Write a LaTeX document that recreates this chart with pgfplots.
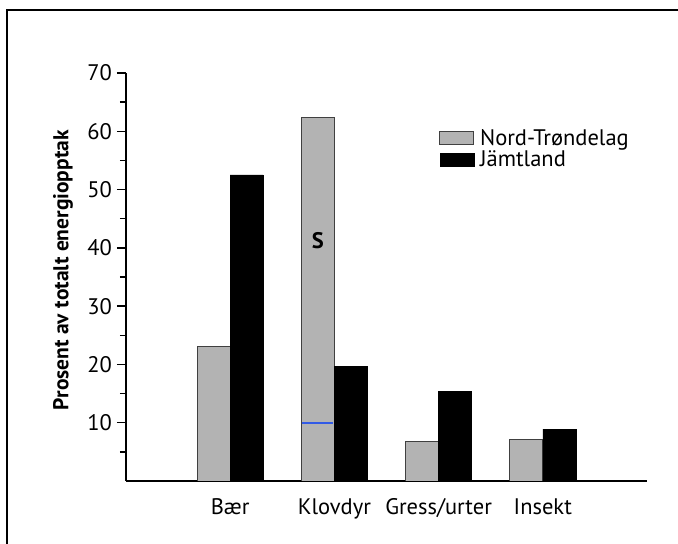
\documentclass[border=0pt]{standalone}
\usepackage{pgfplots}
\pgfplotsset{compat=1.18}
\usepackage{fontspec}
\setmainfont{PT Sans}
\definecolor{barg}{RGB}{179,179,179}
\definecolor{bluel}{RGB}{50,90,230}
\begin{document}
\begin{tikzpicture}
\draw[line width=2.6pt] (7pt,0pt) -- (7pt,534pt) -- (678pt,534pt);
\begin{axis}[
  at={(126pt,63pt)}, anchor=south west,
  scale only axis, width=521pt, height=408pt,
  xmin=-1, xmax=4, ymin=0, ymax=70,
  axis x line=bottom, axis y line=left,
  axis line style={-, line width=1.6pt},
  ybar=0pt, bar width=33pt,
  xtick={0,1,2,3},
  xticklabels={Bær,Klovdyr,Gress/urter,Insekt},
  x tick style={draw=none},
  xticklabel style={yshift=-5pt},
  ytick={10,20,...,70},
  minor ytick={5,15,...,65},
  tick align=outside,
  major tick length=9pt, minor tick length=6pt,
  y tick style={line width=1.3pt, black},
  yticklabel style={xshift=-1.5pt},
  tick label style={font=\fontsize{22.5}{27}\selectfont},
  /pgf/number format/assume math mode=true,
  ylabel={Prosent av totalt energiopptak},
  ylabel style={font=\fontsize{21.5}{25}\selectfont\bfseries, at={(rel axis cs:-0.121,0.517)}, anchor=center},
  legend style={draw=none, fill=none, at={(rel axis cs:0.601,0.862)}, anchor=north west,
    font=\fontsize{22.5}{27}\selectfont, row sep=4pt, inner sep=0pt, nodes={inner sep=0pt},
    /tikz/every odd column/.append style={column sep=6pt}},
  legend cell align=left,
  legend image code/.code={\draw[#1] (0pt,-6.5pt) rectangle (34pt,6.5pt);},
]
\addplot[fill=barg, draw=black!75, line width=0.8pt] coordinates {(0,23.1) (1,62.3) (2,6.8) (3,7.1)};
\addplot[fill=black, draw=black] coordinates {(0,52.5) (1,19.7) (2,15.4) (3,8.9)};
\legend{Nord-Trøndelag, Jämtland}
\end{axis}
\begin{axis}[
  at={(126pt,63pt)}, anchor=south west,
  scale only axis, width=521pt, height=408pt,
  xmin=-1, xmax=4, ymin=0, ymax=70,
  hide axis,
]
\addplot[bluel, line width=1.8pt] coordinates {(0.69,10) (0.99,10)};
\node[font=\fontsize{22.5}{27}\selectfont\bfseries] at (axis cs:0.84,41.2) {S};
\end{axis}
\pgfresetboundingbox
\useasboundingbox (0pt,0pt) rectangle (678pt,544pt);
\end{tikzpicture}
\end{document}
